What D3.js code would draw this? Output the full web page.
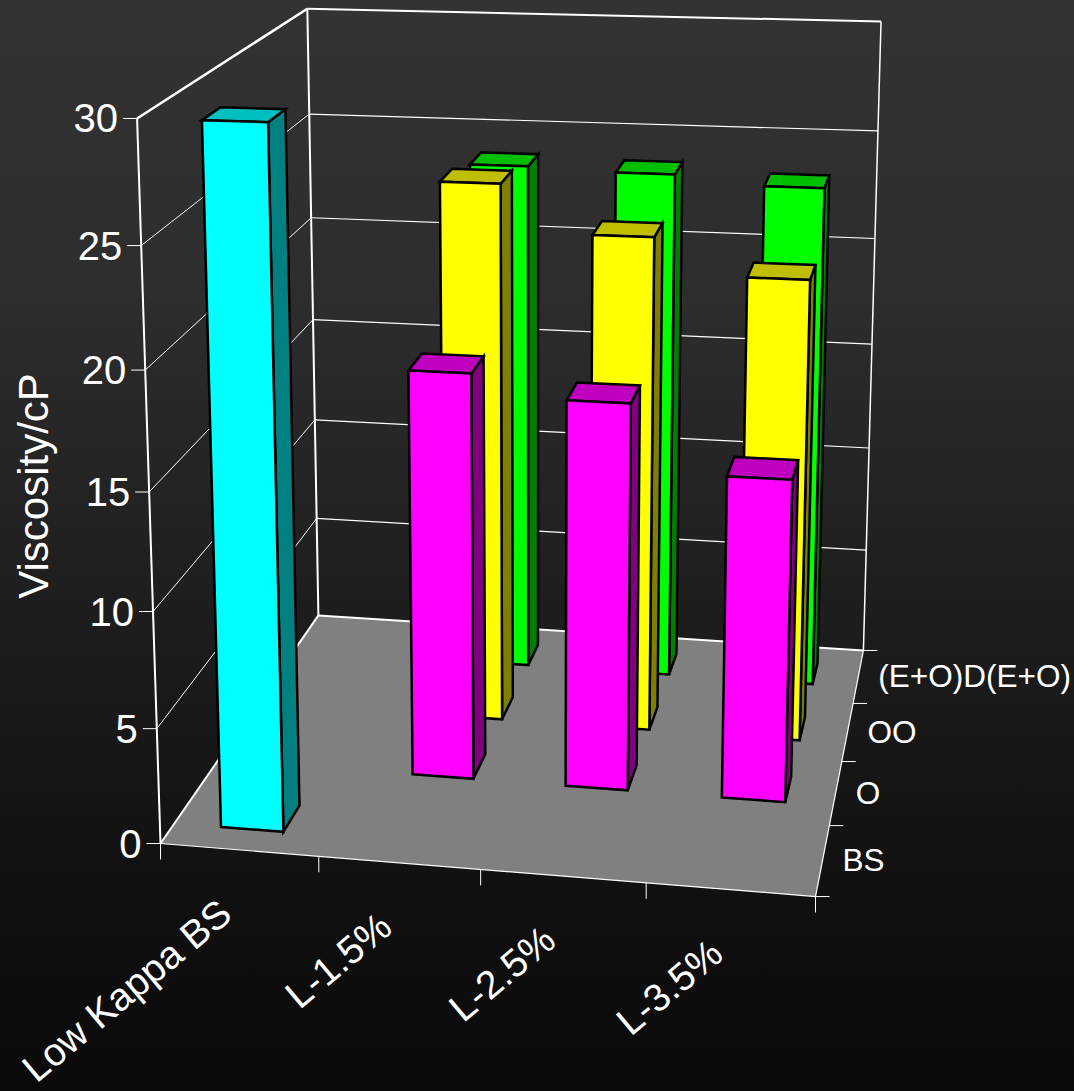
<!DOCTYPE html>
<html><head><meta charset="utf-8">
<script src="https://cdn.jsdelivr.net/npm/d3@7"></script>
<style>html,body{margin:0;padding:0;background:#000}svg{display:block}text{font-family:"Liberation Sans",Arial,sans-serif;fill:#fff}</style>
</head><body><div id="c"></div>
<script>
const categories = ["Low Kappa BS","L-1.5%","L-2.5%","L-3.5%"];
const seriesNames = ["BS","O","OO","(E+O)D(E+O)"];
const valuesBS = [29.6,null,null,null];
const valuesO = [null,17.95,17.0,14.1];
const valuesOO = [null,24.5,22.4,20.8];
const valuesEO = [null,23.85,23.7,23.3];
const seriesValues = [valuesBS,valuesO,valuesOO,valuesEO];
const seriesColors = ["#00ffff","#ff00ff","#ffff00","#00ff00"];
const valueTicks = [0,5,10,15,20,25,30];
const axisTitle = "Viscosity/cP";

const W=1074,H=1091;
const svg=d3.select("#c").append("svg").attr("width",W).attr("height",H);
const grad=svg.append("defs").append("linearGradient").attr("id","bg").attr("x1",0).attr("y1",0).attr("x2",0).attr("y2",1);
[[0,"#333333"],[.275,"#2d2d2d"],[.55,"#1e1e1e"],[.825,"#101010"],[1,"#0a0a0a"]].forEach(s=>grad.append("stop").attr("offset",s[0]).attr("stop-color",s[1]));
svg.append("rect").attr("width",W).attr("height",H).attr("fill","url(#bg)");

// scales in normalised box units
const xBand=d3.scaleBand().domain(categories).range([0,1]).paddingInner(0.6).paddingOuter(0.3);
const zBand=d3.scaleBand().domain(seriesNames).range([0,1]).paddingInner(0.6).paddingOuter(0.3);
const yVal=d3.scaleLinear().domain([0,30]).range([0,1]);
// camera (projective) matrix
const P=[[619.2,223.4,-31.5,160.5],[13.7,-101.5,-732,843.5],[-0.0439,0.2057,-0.059,1]];
function proj(u,v,w){const d=P[2][0]*u+P[2][1]*v+P[2][2]*w+P[2][3];
  return [(P[0][0]*u+P[0][1]*v+P[0][2]*w+P[0][3])/d,(P[1][0]*u+P[1][1]*v+P[1][2]*w+P[1][3])/d];}
const line=d3.line();
const path3=(pts,closed)=>line(pts.map(p=>proj(...p)))+(closed?"Z":"");
function seg(g,a,b,sw){const A=proj(...a),B=proj(...b);
  g.append("line").attr("x1",A[0]).attr("y1",A[1]).attr("x2",B[0]).attr("y2",B[1]).attr("stroke","#fff").attr("stroke-width",sw);}

// floor
svg.append("path").attr("d",path3([[0,0,0],[1,0,0],[1,1,0],[0,1,0]],true)).attr("fill","#808080");
// walls & grid
const gw=svg.append("g");
valueTicks.forEach(t=>{const w=yVal(t);
  if(t>0){seg(gw,[0,0,w],[0,1,w],t===30?2.6:1);seg(gw,[0,1,w],[1,1,w],t===30?2:1.2);}
  const A=proj(0,0,w);
  gw.append("line").attr("x1",A[0]-14).attr("y1",A[1]).attr("x2",A[0]).attr("y2",A[1]).attr("stroke","#fff").attr("stroke-width",1);
  svg.append("text").attr("x",A[0]-19).attr("y",A[1]).attr("dy","0.35em").attr("text-anchor","end").attr("font-size",40).text(t);
});
seg(gw,[0,0,0],[0,0,1],2);seg(gw,[0,1,0],[0,1,1],2);seg(gw,[1,1,0],[1,1,1],1.5);
seg(gw,[0,0,0],[0,1,0],2);seg(gw,[0,1,0],[1,1,0],2);seg(gw,[0,0,0],[1,0,0],1.2);seg(gw,[1,0,0],[1,1,0],1.2);
// ticks
d3.range(0,5).forEach(i=>{const A=proj(i/4,0,0);
  gw.append("line").attr("x1",A[0]).attr("y1",A[1]).attr("x2",A[0]).attr("y2",A[1]+16).attr("stroke","#fff").attr("stroke-width",1);
  const B=proj(1,i/4,0);
  gw.append("line").attr("x1",B[0]).attr("y1",B[1]).attr("x2",B[0]+14).attr("y2",B[1]).attr("stroke","#fff").attr("stroke-width",1);
});
// bars back to front, left to right
const shade=(c,k)=>{const r=d3.rgb(c);return d3.rgb(r.r*k,r.g*k,r.b*k).formatHex();};
const gb=svg.append("g").attr("stroke","#000").attr("stroke-width",2.5).attr("stroke-linejoin","miter");
d3.range(3,-1,-1).forEach(si=>{
  categories.forEach((cat,ci)=>{
    const val=seriesValues[si][ci]; if(val==null) return;
    const u0=xBand(cat),u1=u0+xBand.bandwidth(),v0=zBand(seriesNames[si]),v1=v0+zBand.bandwidth(),w=yVal(val),col=seriesColors[si];
    gb.append("path").attr("d",path3([[u1,v0,0],[u1,v1,0],[u1,v1,w],[u1,v0,w]],true)).attr("fill",shade(col,.5));
    gb.append("path").attr("d",path3([[u0,v0,w],[u1,v0,w],[u1,v1,w],[u0,v1,w]],true)).attr("fill",shade(col,.75));
    gb.append("path").attr("d",path3([[u0,v0,0],[u1,v0,0],[u1,v0,w],[u0,v0,w]],true)).attr("fill",col);
  });
});
// labels
categories.forEach((c,i)=>{const A=proj(xBand(c)+xBand.bandwidth()/2,0,0);
  svg.append("text").attr("transform",`translate(${A[0]-5},${A[1]+68}) rotate(-40)`).attr("text-anchor","end").attr("font-size",39).text(c);
});
seriesNames.forEach(s=>{const A=proj(1,zBand(s)+zBand.bandwidth()/2,0);
  svg.append("text").attr("x",A[0]+20).attr("y",A[1]).attr("dy","0.35em").attr("font-size",31.5).text(s);
});
svg.append("text").attr("transform","translate(48,486) rotate(-90)").attr("text-anchor","middle").attr("font-size",42).text(axisTitle);
</script></body></html>
